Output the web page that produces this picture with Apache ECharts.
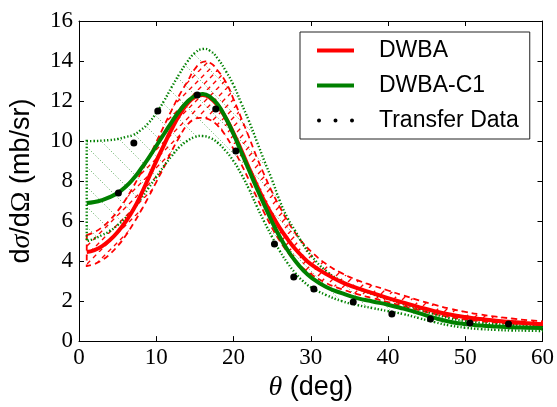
<!DOCTYPE html>
<html>
<head>
<meta charset="utf-8">
<script src="https://cdn.jsdelivr.net/npm/echarts@6/dist/echarts.min.js"></script>
<style>
  html, body { margin: 0; padding: 0; background: #fff; }
  #chart { width: 557px; height: 407px; }
</style>
</head>
<body>
<div id="chart"></div>
<script>
// Scattering angle grid (deg) shared by all calculated curves
const theta = [1,2,3,4,5,6,7,8,9,10,11,12,13,14,15,16,17,18,19,20,21,22,23,24,25,26,27,28,29,30,32,34,36,38,40,42,44,46,48,50,52,54,56,58,60];

// DWBA cross section (mb/sr)
const dwba = [4.45,4.55,4.75,5.05,5.45,5.95,6.55,7.3,8.15,9.0,9.8,10.6,11.3,11.85,12.2,12.3,12.15,11.75,11.15,10.4,9.55,8.65,7.8,7.0,6.3,5.65,5.1,4.6,4.2,3.85,3.35,2.95,2.65,2.4,2.15,1.92,1.7,1.5,1.33,1.2,1.1,1.02,0.95,0.89,0.84];
// DWBA uncertainty band
const dwbaHi = [5.3,5.45,5.7,6.05,6.5,7.05,7.7,8.4,9.15,9.95,10.75,11.55,12.3,12.95,13.6,13.95,13.9,13.5,12.95,12.1,11.15,10.2,9.2,8.3,7.45,6.7,6.0,5.4,4.9,4.5,3.85,3.4,3.05,2.78,2.53,2.28,2.04,1.82,1.62,1.46,1.33,1.22,1.13,1.05,0.99];
const dwbaLo = [3.75,3.85,4.05,4.35,4.75,5.25,5.85,6.5,7.2,7.95,8.7,9.5,10.2,10.8,11.1,11.15,11.05,10.75,10.25,9.6,8.85,8.05,7.2,6.4,5.65,5.0,4.45,4.0,3.65,3.35,2.9,2.6,2.35,2.15,1.95,1.75,1.55,1.36,1.2,1.08,0.99,0.92,0.87,0.83,0.8];

// DWBA-C1 cross section (mb/sr)
const dwbaC1 = [6.9,6.95,7.05,7.2,7.4,7.7,8.1,8.6,9.15,9.75,10.35,10.95,11.5,11.95,12.25,12.35,12.2,11.8,11.15,10.35,9.45,8.55,7.65,6.8,5.95,5.2,4.55,4.0,3.55,3.2,2.7,2.4,2.15,1.98,1.82,1.62,1.4,1.16,0.97,0.85,0.78,0.73,0.69,0.67,0.65];
// DWBA-C1 uncertainty band
const dwbaC1Hi = [10.0,10.0,10.02,10.05,10.1,10.2,10.3,10.55,10.9,11.4,12.0,12.7,13.35,13.95,14.4,14.6,14.5,14.1,13.5,12.8,11.9,11.0,10.0,9.0,8.05,7.0,6.15,5.5,4.85,4.3,3.5,3.0,2.65,2.35,2.1,1.85,1.6,1.35,1.14,1.0,0.91,0.85,0.8,0.77,0.74];
const dwbaC1Lo = [5.0,5.12,5.3,5.5,5.8,6.15,6.55,7.1,7.65,8.2,8.75,9.25,9.7,10.0,10.2,10.25,10.15,9.9,9.5,9.0,8.35,7.6,6.75,5.95,5.2,4.5,3.9,3.4,3.0,2.7,2.3,2.0,1.8,1.65,1.5,1.35,1.15,0.95,0.78,0.67,0.6,0.56,0.53,0.52,0.5];

// Measured transfer data
const dataTheta = [5.1,7.1,10.2,15.3,17.7,20.3,25.3,27.8,30.4,35.5,40.5,45.5,50.6,55.6];
const dataXs = [7.4,9.9,11.5,12.3,11.6,9.5,4.85,3.2,2.6,1.95,1.35,1.1,0.9,0.85];

// Axis ticks
const xTicks = [0,10,20,30,40,50,60];
const yTicks = [0,2,4,6,8,10,12,14,16];

const RED = '#ff0000';
const GREEN = '#008000';
const SMOOTH = 0.5;

const pairs = (xs, ys) => xs.map((x, i) => [x, ys[i]]);

// Repeating hatch tile: '/' or '\' strokes
function hatch(size, spacing, dir, color, width, dash) {
  const c = document.createElement('canvas');
  c.width = c.height = size;
  const g = c.getContext('2d');
  g.strokeStyle = color;
  g.lineWidth = width;
  g.setLineDash(dash);
  for (let k = -size; k <= size; k += spacing) {
    g.beginPath();
    if (dir === '/') { g.moveTo(k, size); g.lineTo(k + size, 0); }
    else { g.moveTo(k, 0); g.lineTo(k + size, size); }
    g.stroke();
  }
  return c;
}
const redHatch = hatch(18, 9, '/', RED, 1.3, [4.5, 3.99]);
const greenHatch = hatch(20, 20, '\\', 'rgba(0,128,0,0.6)', 1, [1.1, 2.04]);

// Smooth cubic segments through pixel points (same scheme as line smoothing)
function curveTo(pts) {
  const n = pts.length;
  const cpIn = [], cpOut = [];
  for (let i = 0; i < n; i++) {
    const p = pts[i];
    if (i === 0 || i === n - 1) { cpIn[i] = p; cpOut[i] = p; continue; }
    const a = pts[i - 1], b = pts[i + 1];
    const vx = b[0] - a[0], vy = b[1] - a[1];
    const d0 = Math.hypot(p[0] - a[0], p[1] - a[1]);
    const d1 = Math.hypot(b[0] - p[0], b[1] - p[1]);
    const r = d1 / (d0 + d1);
    cpIn[i] = [p[0] - vx * SMOOTH * (1 - r), p[1] - vy * SMOOTH * (1 - r)];
    cpOut[i] = [p[0] + vx * SMOOTH * r, p[1] + vy * SMOOTH * r];
  }
  let d = '';
  for (let i = 0; i < n - 1; i++) {
    const c1 = cpOut[i], c2 = cpIn[i + 1], q = pts[i + 1];
    d += ` C${c1[0]},${c1[1]} ${c2[0]},${c2[1]} ${q[0]},${q[1]}`;
  }
  return d;
}

// Hatched band between lo and hi, outlined like a filled region edge
function bandSeries(lo, hi, pattern, color, width, dash) {
  return {
    type: 'custom', coordinateSystem: 'cartesian2d', clip: true, silent: true,
    data: theta.map((t, i) => [t, lo[i], hi[i]]),
    encode: { x: 0, y: [1, 2] },
    renderItem(params, api) {
      if (params.dataIndex !== 0) return null;
      const up = theta.map((t, i) => api.coord([t, hi[i]]));
      const dn = theta.map((t, i) => api.coord([t, lo[i]])).reverse();
      const d = `M${up[0][0]},${up[0][1]}` + curveTo(up) +
        ` L${dn[0][0]},${dn[0][1]}` + curveTo(dn) + ' Z';
      return {
        type: 'group',
        children: [
          { type: 'path', shape: { pathData: d },
            style: { fill: { image: pattern, repeat: 'repeat' }, stroke: null } },
          { type: 'path', shape: { pathData: d },
            style: { fill: null, stroke: color, lineWidth: width, lineDash: dash } }
        ]
      };
    }
  };
}

const serif = 'Liberation Serif';
const sans = 'Liberation Sans';

const axisBase = {
  type: 'value',
  axisLine: { show: true, onZero: false, lineStyle: { color: '#000', width: 1 } },
  axisTick: { show: true, inside: true, length: 5, lineStyle: { color: '#000' } },
  splitLine: { show: false }
};

const chart = echarts.init(document.getElementById('chart'), null, { renderer: 'canvas' });

const option = {
  animation: false,
  backgroundColor: '#fff',
  grid: { left: 79, top: 21, right: 14, bottom: 64 },
  xAxis: [
    { ...axisBase, min: 0, max: 60, interval: 10, position: 'bottom',
      axisLabel: { color: '#000', fontFamily: serif, fontSize: 23, margin: 5,
        formatter: v => xTicks.includes(v) ? String(v) : '' },
      name: '{s|θ}{a| (deg)}', nameLocation: 'middle', nameGap: 26,
      nameTextStyle: { rich: {
        s: { fontFamily: serif, fontStyle: 'italic', fontSize: 28, color: '#000' },
        a: { fontFamily: sans, fontSize: 27, color: '#000' } } } },
    { ...axisBase, min: 0, max: 60, interval: 10, position: 'top', axisLabel: { show: false } }
  ],
  yAxis: [
    { ...axisBase, min: 0, max: 16, interval: 2, position: 'left',
      axisLabel: { color: '#000', fontFamily: serif, fontSize: 23, margin: 6,
        formatter: v => yTicks.includes(v) ? String(v) : '' },
      name: '{a|d}{s|σ}{a|/d}{o|Ω}{a| (mb/sr)}', nameLocation: 'middle', nameGap: 43,
      nameRotate: 90,
      nameTextStyle: { rich: {
        s: { fontFamily: serif, fontStyle: 'italic', fontSize: 28, color: '#000' },
        o: { fontFamily: serif, fontSize: 28, color: '#000' },
        a: { fontFamily: sans, fontSize: 27, color: '#000' } } } },
    { ...axisBase, min: 0, max: 16, interval: 2, position: 'right', axisLabel: { show: false } }
  ],
  legend: {
    left: 300, top: 32, orient: 'vertical',
    padding: [7, 11, 7, 15], itemGap: 12,
    itemWidth: 37, itemHeight: 4,
    borderColor: '#222', borderWidth: 1, backgroundColor: '#fff',
    selectedMode: false,
    lineStyle: { width: 4 },
    textStyle: { fontFamily: sans, fontSize: 23, lineHeight: 23, color: '#000', padding: [0, 0, 0, 20] },
    data: [
      { name: 'DWBA' },
      { name: 'DWBA-C1' },
      { name: 'Transfer Data',
        icon: 'path://M2,0A2,2 0 1,1 2,4A2,2 0 1,1 2,0Z M18.5,0A2,2 0 1,1 18.5,4A2,2 0 1,1 18.5,0Z M35,0A2,2 0 1,1 35,4A2,2 0 1,1 35,0Z' }
    ]
  },
  series: [
    bandSeries(dwbaLo, dwbaHi, redHatch, RED, 1.8, [6, 4]),
    bandSeries(dwbaC1Lo, dwbaC1Hi, greenHatch, GREEN, 2.4, [1.4, 2]),
    { name: 'DWBA', type: 'line', data: pairs(theta, dwba), smooth: SMOOTH, symbol: 'none',
      color: RED, lineStyle: { color: RED, width: 4 } },
    { name: 'DWBA-C1', type: 'line', data: pairs(theta, dwbaC1), smooth: SMOOTH, symbol: 'none',
      color: GREEN, lineStyle: { color: GREEN, width: 4 } },
    { name: 'Transfer Data', type: 'scatter', data: pairs(dataTheta, dataXs),
      symbol: 'circle', symbolSize: 7, color: '#000',
      itemStyle: { color: '#000', opacity: 1 }, z: 5 }
  ]
};

chart.setOption(option);
</script>
</body>
</html>
